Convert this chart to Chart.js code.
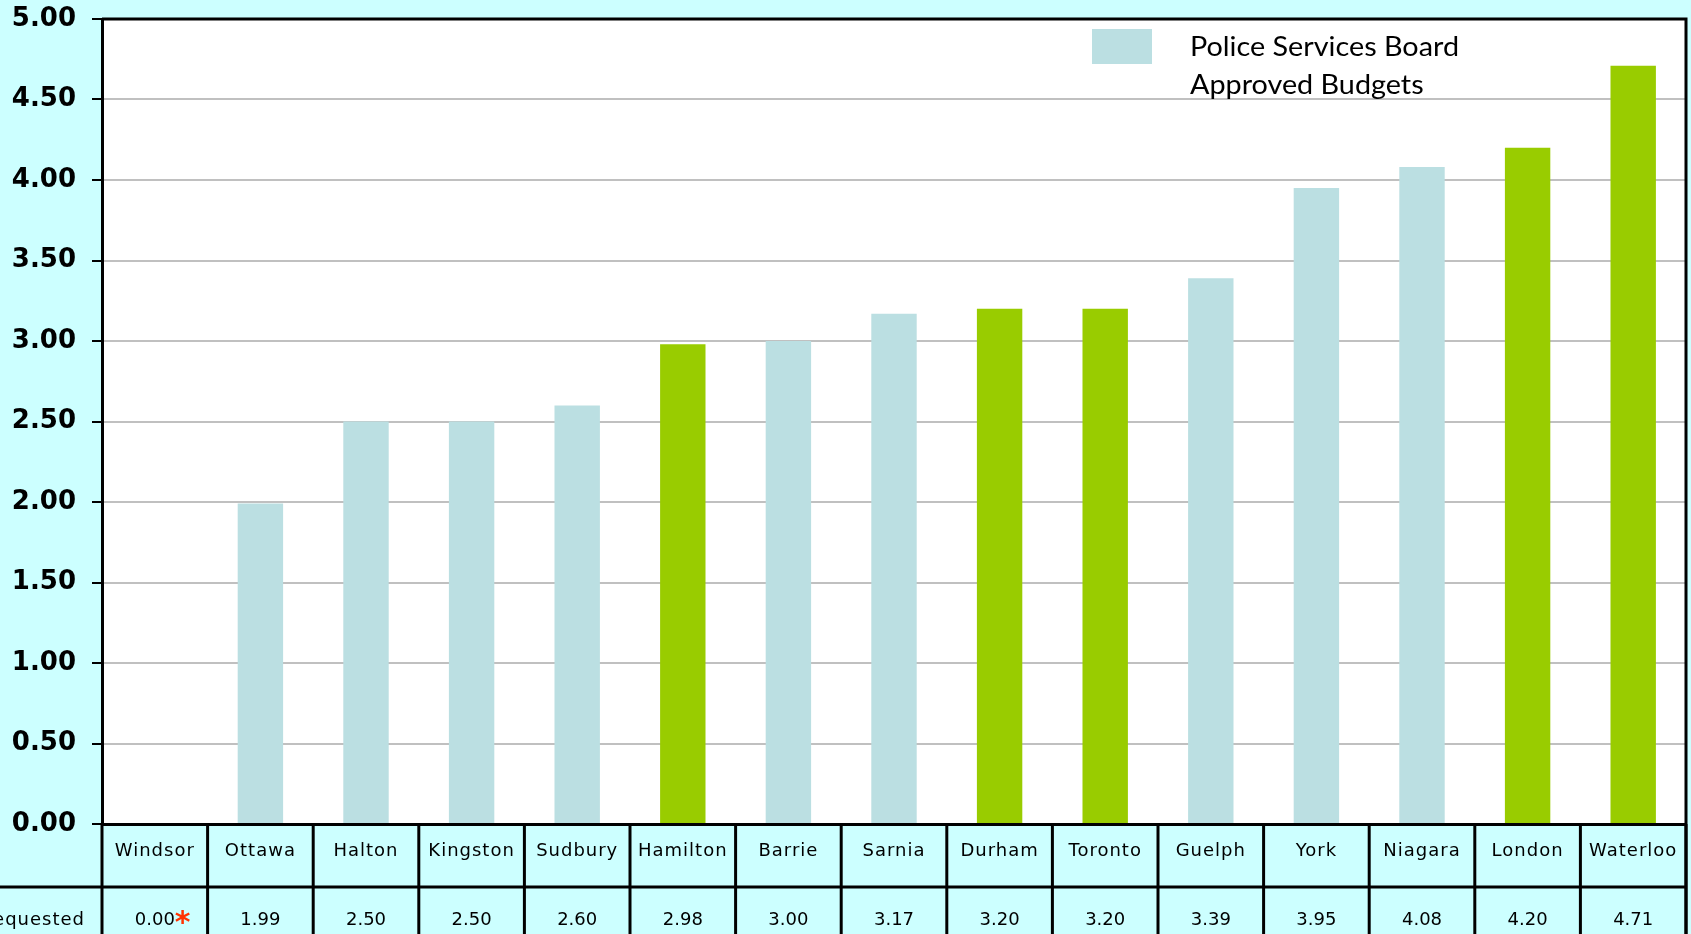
<!DOCTYPE html>
<html>
<head>
<meta charset="utf-8">
<script src="https://cdn.jsdelivr.net/npm/chart.js@4"></script>
<style>
  html, body { margin: 0; padding: 0; background: #ccffff; }
  #wrap { width: 1691px; height: 934px; position: relative; }
</style>
</head>
<body>
<div id="wrap"><canvas id="grafica"></canvas></div>
<script>
// datos del grafico
var ciudades = ['Windsor', 'Ottawa', 'Halton', 'Kingston', 'Sudbury', 'Hamilton', 'Barrie', 'Sarnia',
    'Durham', 'Toronto', 'Guelph', 'York', 'Niagara', 'London', 'Waterloo'];
var incrementos = [0.00, 1.99, 2.50, 2.50, 2.60, 2.98, 3.00, 3.17, 3.20, 3.20, 3.39, 3.95, 4.08, 4.20, 4.71];
// true = aprobado por Police Services Board (barra celeste)
var aprobadoJunta = [true, true, true, true, true, false, true, true, false, false, true, true, true, false, false];
var notas = ['*', '', '', '', '', '', '', '', '', '', '', '', '', '', ''];
var ticksY = [0, 0.5, 1, 1.5, 2, 2.5, 3, 3.5, 4, 4.5, 5];
var leyenda = ['Police Services Board', 'Approved Budgets'];
var filaTabla = 'Requested';

var colorJunta = '#bbdfe2';
var colorOtro = '#99cc00';

var coloresBarras = aprobadoJunta.map(a => a ? colorJunta : colorOtro);

var pluginFondo = {
    id: 'fondo',
    beforeDraw(chart) {
        var ctx = chart.ctx, a = chart.chartArea;
        ctx.save();
        ctx.fillStyle = '#ffffff';
        ctx.fillRect(a.left, a.top, a.right - a.left, a.bottom - a.top);
        ctx.restore();
    }
};

var pluginTabla = {
    id: 'tabla',
    afterDraw(chart) {
        var ctx = chart.ctx, a = chart.chartArea, x = chart.scales.x;
        var H = chart.height;
        var n = ciudades.length;
        var anchoCol = (a.right - a.left) / n;
        var fila1 = a.bottom + 63;
        ctx.save();
        ctx.strokeStyle = '#000';
        ctx.lineWidth = 3;
        // borde superior y derecho del area
        ctx.beginPath();
        ctx.moveTo(a.left, a.top);
        ctx.lineTo(a.right, a.top);
        ctx.lineTo(a.right, H);
        ctx.stroke();
        // linea entre filas
        ctx.beginPath();
        ctx.moveTo(0, fila1);
        ctx.lineTo(a.right, fila1);
        ctx.stroke();
        // lineas verticales
        for (var i = 0; i <= n; i++) {
            var px = i < n ? x.getPixelForValue(i) - anchoCol / 2 : a.right;
            ctx.beginPath();
            ctx.moveTo(px, a.bottom);
            ctx.lineTo(px, H);
            ctx.stroke();
        }
        ctx.fillStyle = '#000';
        ctx.textBaseline = 'alphabetic';
        ctx.textAlign = 'center';
        for (var i = 0; i < n; i++) {
            var cx = x.getPixelForValue(i);
            ctx.font = '18px "DejaVu Sans"';
            ctx.letterSpacing = '1px';
            ctx.fillText(ciudades[i], cx, a.bottom + 32);
            ctx.letterSpacing = '0px';
            var txt = incrementos[i].toFixed(2);
            ctx.fillText(txt, cx, fila1 + 38);
            if (notas[i]) {
                var w = ctx.measureText(txt).width;
                ctx.save();
                ctx.fillStyle = '#ff3300';
                ctx.textAlign = 'left';
                ctx.font = 'bold 30px "DejaVu Sans"';
                ctx.fillText(notas[i], cx + w / 2, fila1 + 45);
                ctx.restore();
            }
        }
        ctx.textAlign = 'right';
        ctx.font = '18px "DejaVu Sans"';
        ctx.letterSpacing = '1px';
        ctx.fillText(filaTabla, 85, fila1 + 38);
        ctx.letterSpacing = '0px';
        ctx.restore();
    }
};

var pluginLeyenda = {
    id: 'leyendaPropia',
    afterDraw(chart) {
        var ctx = chart.ctx;
        ctx.save();
        ctx.fillStyle = colorJunta;
        ctx.fillRect(1092, 29, 60, 35);
        ctx.fillStyle = '#000';
        ctx.font = '26px Lato';
        ctx.textAlign = 'left';
        ctx.textBaseline = 'alphabetic';
        var w = ctx.measureText(leyenda[0]).width;
        var sx = 269 / w;
        for (var i = 0; i < leyenda.length; i++) {
            ctx.save();
            ctx.translate(1190, 56 + i * 38);
            ctx.scale(sx, 1);
            ctx.fillText(leyenda[i], 0, 0);
            ctx.restore();
        }
        ctx.restore();
    }
};

var ctx = document.getElementById('grafica').getContext('2d');
var myChart = new Chart(ctx, {
    type: 'bar',
    data: {
        labels: ciudades,
        datasets: [{
            label: leyenda.join(' '),
            data: incrementos,
            backgroundColor: coloresBarras,
            borderWidth: 0,
            categoryPercentage: 1,
            barPercentage: 0.43
        }]
    },
    plugins: [pluginFondo, pluginTabla, pluginLeyenda],
    options: {
        responsive: true,
        maintainAspectRatio: false,
        animation: false,
        layout: { padding: { top: 19, right: 5, left: 0, bottom: 0 } },
        plugins: {
            legend: { display: false },
            tooltip: { enabled: false }
        },
        scales: {
            x: {
                ticks: { display: false },
                grid: { display: false, drawTicks: false },
                border: { display: true, color: '#000', width: 3 },
                afterFit: function (s) { s.height = 110; }
            },
            y: {
                min: 0,
                max: 5,
                afterBuildTicks: function (s) { s.ticks = ticksY.map(v => ({ value: v })); },
                ticks: {
                    color: '#000',
                    padding: 16,
                    font: { family: 'DejaVu Sans', size: 26, weight: 'bold' },
                    callback: function (v) { return Number(v).toFixed(2); }
                },
                grid: {
                    color: function (c) { return c.tick && c.tick.value === 5 ? '#000' : '#c0c0c0'; },
                    lineWidth: 2,
                    tickColor: '#000',
                    tickWidth: 2,
                    tickLength: 10
                },
                border: { display: true, color: '#000', width: 3 },
                afterFit: function (s) {
                    s.width = 102;
                    s.paddingTop = 0;
                    s.paddingBottom = 0;
                }
            }
        }
    }
});
</script>
</body>
</html>
